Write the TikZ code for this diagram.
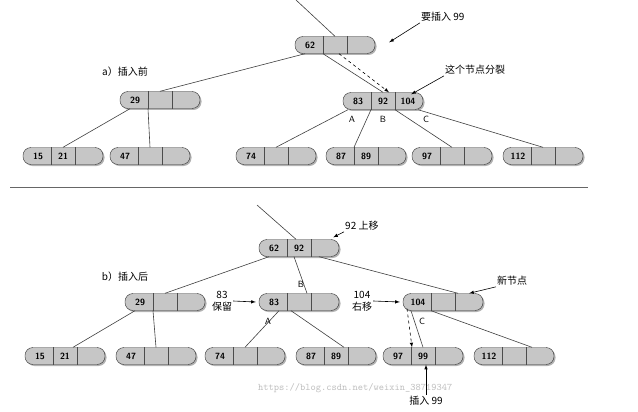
\documentclass[tikz,border=0pt]{standalone}
\usepackage{fontspec}
\newfontfamily\cjk{Noto Sans CJK SC}
\usepackage{tikz}
\usetikzlibrary{shadows, arrows}
\tikzstyle{keybox} = [rectangle, rounded corners=8pt,
minimum width=80pt,
minimum height=17pt,
draw=black!80,
fill=gray!45,
drop shadow={shadow xshift=1.5pt, shadow yshift=-1.5pt, fill=black!60}]
\tikzstyle{key} = [font=\sffamily\bfseries\small, inner sep=0pt]
\tikzstyle{branch} = [black!75, semithick]
\tikzstyle{note} = [font=\cjk, align=center, inner sep=1pt]
\tikzstyle{arrow} = [semithick,->,>=latex]
\tikzstyle{letter} = [font=\sffamily\small]
% one B-tree node: name, centre, three keys
\newcommand{\btnode}[5]{%
\node (#1) [keybox] at (#2) {};
\draw [black!70] ([xshift=-12pt]#1.north) -- ([xshift=-12pt]#1.south);
\draw [black!70] ([xshift=12pt]#1.north) -- ([xshift=12pt]#1.south);
\node [key] at ([xshift=-25pt]#1.center) {#3};
\node [key] at (#1.center) {#4};
\node [key] at ([xshift=25pt]#1.center) {#5};
}
\begin{document}
\begin{tikzpicture}[x=1pt, y=-1pt]
\useasboundingbox [fill=white] (0,0) rectangle (638,412);
% a) before
\btnode{ra}{335,45}{62}{}{}
\btnode{la}{160,100}{29}{}{}
\btnode{ma}{383,101}{83}{92}{104}
\btnode{a1}{63,156}{15}{21}{}
\btnode{a2}{150,156}{47}{}{}
\btnode{a3}{276,156}{74}{}{}
\btnode{a4}{366,156}{87}{89}{}
\btnode{a5}{452,156}{97}{}{}
\btnode{a6}{543,156}{112}{}{}
\coordinate (topa) at (296,0);
\draw [branch] (topa) -- (ra.north);
\draw [branch] ([xshift=-30pt]ra.south) -- (la.north);
\draw [branch] ([xshift=-12pt]ra.south) -- (ma.north);
\draw [semithick, dashed, ->, >=latex] ([xshift=4pt]ra.south) -- ([xshift=6pt]ma.north);
\draw [branch] ([xshift=-30pt]la.south) -- (a1.north);
\draw [branch] ([xshift=-12pt]la.south) -- (a2.north);
\draw [branch] ([xshift=-35pt]ma.south) -- (a3.north);
\draw [branch] ([xshift=-12pt]ma.south) -- ([xshift=-12pt]a4.north);
\draw [branch] ([xshift=12pt]ma.south) -- (a5.north);
\draw [branch] ([xshift=35pt]ma.south) -- (a6.north);
\node [letter] at (352,119) {A};
\node [letter] at (383,119) {B};
\node [letter] at (426,119) {C};
\node (ins) [note, anchor=west] at (420,17) {要插入 99};
\draw [arrow] (ins.south west) -- ([xshift=14pt, yshift=-6pt]ra.north east);
\node (splt) [note, anchor=west] at (444,70) {这个节点分裂};
\draw [arrow] (splt.south west) -- ([xshift=-12pt,yshift=-2pt]ma.north east);
\node (pa) [note] at (125,72) {a）插入前};
\draw [black!60] (10,187) -- (588,187);
% b) after
\btnode{rb}{299,248}{62}{92}{}
\btnode{lb}{165,302}{29}{}{}
\btnode{mb}{299,302}{83}{}{}
\btnode{nb}{443,302}{104}{}{}
\btnode{b1}{65,356}{15}{21}{}
\btnode{b2}{156,356}{47}{}{}
\btnode{b3}{245,356}{74}{}{}
\btnode{b4}{336,356}{87}{89}{}
\btnode{b5}{423,356}{97}{99}{}
\btnode{b6}{514,356}{112}{}{}
\coordinate (topb) at (257,205);
\draw [branch] (topb) -- ([xshift=-3pt]rb.north);
\draw [branch] ([xshift=-30pt]rb.south) -- (lb.north);
\draw [branch] ([xshift=-5pt]rb.south) -- ([xshift=8pt]mb.north);
\draw [branch] ([xshift=20pt]rb.south) -- ([xshift=15pt]nb.north);
\draw [branch] ([xshift=-30pt]lb.south) -- ([xshift=8pt]b1.north);
\draw [branch] ([xshift=-12pt]lb.south) -- (b2.north);
\draw [branch] ([xshift=-20pt]mb.south) -- (b3.north);
\draw [branch] ([xshift=-8pt]mb.south) -- ([xshift=8pt]b4.north);
\draw [branch] ([xshift=-32pt]nb.south) -- ([xshift=0pt]b5.north);
\draw [branch] ([xshift=-12pt]nb.south) -- ([xshift=18pt]b6.north);
\draw [semithick, dashed, ->, >=latex] ([xshift=-36pt, yshift=2pt]nb.south) -- ([xshift=-11pt]b5.north);
\node [letter] at (301,284) {B};
\node [letter] at (268,321) {A};
\node [letter] at (422,321) {C};
\node (up) [note, anchor=west] at (344,226) {92 上移};
\draw [arrow] (up.south west) -- ([xshift=-6pt, yshift=2pt]rb.north east);
\node (pb) [note] at (125,277) {b）插入后};
\node (keep) [note] at (222,301) {83\\保留};
\draw [arrow] (keep.east) -- ([xshift=-3pt]mb.west);
\node (mv) [note] at (362,301) {104\\右移};
\draw [arrow] (mv.east) -- ([xshift=-3pt]nb.west);
\node (new) [note, anchor=west] at (496,281) {新节点};
\draw [arrow] (new.south west) -- ([xshift=-14pt]nb.north east);
\node [font=\ttfamily, text=gray!50, anchor=west, inner sep=0pt] at (258,388) {https://blog.csdn.net/weixin\_38719347};
\node (in99) [note] at (426,401) {插入 99};
\draw [arrow] (in99.north) -- ([xshift=3pt]b5.south);
\end{tikzpicture}
\end{document}
